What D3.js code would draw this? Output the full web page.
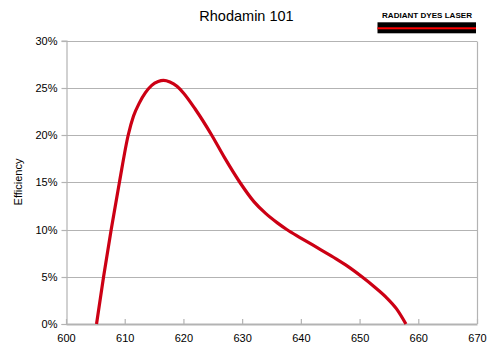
<!DOCTYPE html>
<html><head><meta charset="utf-8">
<script src="https://cdn.jsdelivr.net/npm/d3@7"></script>
<style>body{margin:0;background:#fff}svg{display:block}text{font-family:"Liberation Sans",Arial,sans-serif}</style>
</head><body><svg id="c" width="498" height="357"></svg>
<script>
const title = "Rhodamin 101";
const yLabel = "Efficiency";
const xTicks = [600, 610, 620, 630, 640, 650, 660, 670];
const yTicks = [0, 5, 10, 15, 20, 25, 30];
const wavelength = [605.2, 606.4, 607.7, 609.1, 610.6, 611.5, 612.5, 613.5, 614.6, 615.7, 616.6, 617.7, 618.9, 620.0, 622.0, 624.8, 627.0, 629.6, 632.0, 634.0, 636.0, 637.6, 640.0, 643.0, 646.0, 648.0, 650.4, 652.5, 654.5, 656.3, 657.9];
const efficiency = [0, 5, 10, 15, 20, 22.0, 23.4, 24.45, 25.25, 25.65, 25.77, 25.6, 25.15, 24.45, 22.75, 20.0, 17.6, 15.0, 12.95, 11.7, 10.7, 10.0, 9.1, 8.0, 6.9, 6.1, 5.0, 3.95, 2.85, 1.6, 0];

const svg = d3.select("#c");
const x = d3.scaleLinear().domain([600, 670]).range([66, 477]);
const y = d3.scaleLinear().domain([0, 30]).range([324, 40.5]);
const grey = "#b3b3b3";

// gridlines
svg.append("g").selectAll("line").data(yTicks.filter(d => d > 0)).join("line")
  .attr("x1", x(600)).attr("x2", x(670))
  .attr("y1", d => Math.round(y(d)) + 0.5).attr("y2", d => Math.round(y(d)) + 0.5)
  .attr("stroke", grey).attr("stroke-width", 1);
// right border
svg.append("line").attr("x1", x(670) + 0.5).attr("x2", x(670) + 0.5)
  .attr("y1", Math.round(y(30)) + 0.5).attr("y2", y(0)).attr("stroke", grey).attr("stroke-width", 1.2);

// y axis
const ya = svg.append("g").attr("transform", `translate(${x(600) + 0.5},0)`)
  .call(d3.axisLeft(y).tickValues(yTicks).tickFormat(d => d + "%").tickSize(5).tickPadding(4));
ya.select(".domain").attr("stroke", grey).attr("stroke-width", 1.2);
ya.selectAll(".tick line").attr("stroke", grey).attr("stroke-width", 1.2);
ya.selectAll(".tick").attr("transform", d => `translate(0,${Math.round(y(d)) + 0.5})`);
ya.selectAll("text").attr("font-size", 11).attr("fill", "#000").attr("font-family", "Liberation Sans, Arial, sans-serif");

// x axis
const xa = svg.append("g").attr("transform", `translate(0,${y(0)})`)
  .call(d3.axisBottom(x).tickValues(xTicks).tickSize(0).tickPadding(10));
xa.select(".domain").attr("stroke", grey).attr("stroke-width", 2.2);
xa.selectAll(".tick").append("line").attr("y1", 0).attr("y2", -5).attr("stroke", grey).attr("stroke-width", 1.2);
xa.selectAll("text").attr("font-size", 11).attr("fill", "#000").attr("font-family", "Liberation Sans, Arial, sans-serif");

// curve
const pts = wavelength.map((w, i) => [w, efficiency[i]]);
svg.append("path").datum(pts)
  .attr("d", d3.line().x(d => x(d[0])).y(d => y(d[1])).curve(d3.curveMonotoneX))
  .attr("fill", "none").attr("stroke", "#cc0014").attr("stroke-width", 3.2).attr("stroke-linejoin", "round");

// title
svg.append("text").attr("x", 246.5).attr("y", 21).attr("text-anchor", "middle")
  .attr("font-size", 14.5).text(title);
// y label
svg.append("text").attr("transform", "translate(22,182) rotate(-90)").attr("text-anchor", "middle")
  .attr("font-size", 11).text(yLabel);

// logo
const logo = svg.append("g");
logo.append("text").attr("x", 382).attr("y", 18.3).attr("font-size", 7.8).attr("font-weight", "bold")
  .attr("textLength", 90).attr("lengthAdjust", "spacingAndGlyphs").text("RADIANT DYES LASER");
logo.append("rect").attr("x", 377.5).attr("y", 22.3).attr("width", 98.5).attr("height", 11).attr("fill", "#000");
logo.append("rect").attr("x", 377.5).attr("y", 27.3).attr("width", 98.5).attr("height", 2).attr("fill", "#ff0000");
</script></body></html>
